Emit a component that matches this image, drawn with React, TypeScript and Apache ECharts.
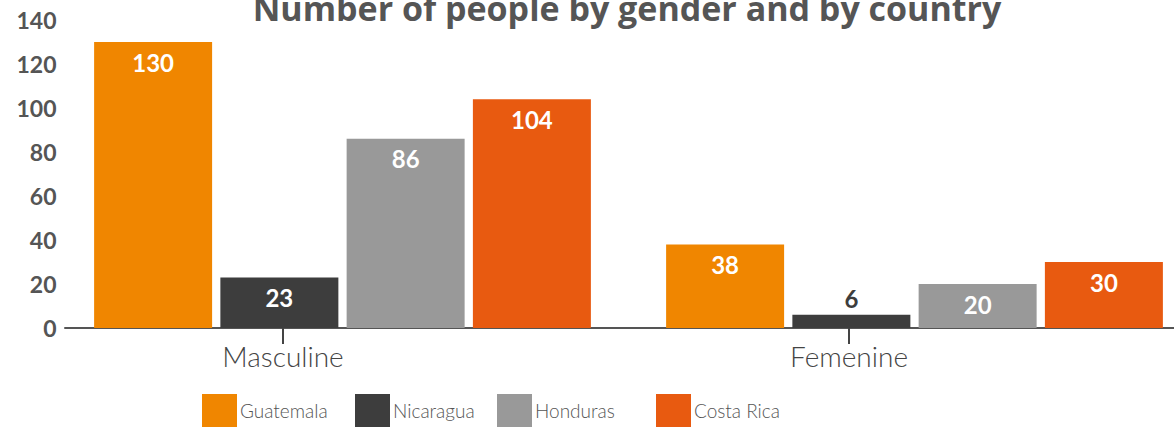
import React, { useEffect, useRef } from "react";
import * as echarts from "echarts";

const categories = ["Masculine", "Femenine"];
const countries = ["Guatemala", "Nicaragua", "Honduras", "Costa Rica"];
const guatemala = [130, 38];
const nicaragua = [23, 6];
const honduras = [86, 20];
const costaRica = [104, 30];
const yTicks = { min: 0, max: 140, interval: 20 };
const colors = ["#F08600", "#3D3D3D", "#999999", "#E85A10"];
const legendLefts = [202, 355, 497, 656];

export default function App() {
  const ref = useRef<HTMLDivElement>(null);
  useEffect(() => {
    if (!ref.current) return;
    const chart = echarts.init(ref.current, null, { renderer: "svg" });
    const font = "Lato, 'Noto Sans', sans-serif";
    const titleFont = "'Open Sans', Lato, sans-serif";
    const seriesData = [guatemala, nicaragua, honduras, costaRica];
    chart.setOption({
      animation: false,
      textStyle: { fontFamily: font },
      title: {
        text: "Number of people by gender and by country",
        left: 622,
        textAlign: "center",
        top: -14,
        textStyle: { fontSize: 34, fontWeight: "bold", color: "#555555", fontFamily: titleFont },
      },
      legend: countries.map((name, i) => ({
        data: [name],
        left: legendLefts[i],
        top: 394,
        padding: 0,
        itemWidth: 35,
        itemHeight: 33,
        itemGap: 0,
        icon: "rect",
        textStyle: { fontSize: 19, fontWeight: 300, color: "#555555", fontFamily: font, padding: [0, 0, 0, -2] },
      })),
      grid: [
        { left: 56.5, width: 1144, top: 20, bottom: 99, containLabel: false },
        { left: 0, width: 1132, top: 20, bottom: 99, containLabel: false },
        { left: 65, width: 1109, top: 20, bottom: 99, containLabel: false },
      ],
      xAxis: [
        {
          type: "category",
          data: categories,
          gridIndex: 0,
          axisTick: { show: false },
          axisLabel: { show: false },
          axisLine: { show: false },
        },
        {
          type: "category",
          data: categories,
          gridIndex: 1,
          axisLine: { show: false },
          axisTick: { show: true, alignWithLabel: true, length: 16, lineStyle: { color: "#444444", width: 2 } },
          axisLabel: { fontSize: 28, fontWeight: 300, color: "#444444", margin: 14, fontFamily: font },
        },
        {
          type: "category",
          data: categories,
          gridIndex: 2,
          axisTick: { show: false },
          axisLabel: { show: false },
          axisLine: { lineStyle: { color: "#555555", width: 2 } },
        },
      ],
      yAxis: [
        {
          type: "value",
          gridIndex: 0,
          min: yTicks.min,
          max: yTicks.max,
          interval: yTicks.interval,
          splitLine: { show: false },
          axisLine: { show: false },
          axisTick: { show: false },
          axisLabel: { fontSize: 23, fontWeight: "bold", color: "#555555", margin: 0, fontFamily: font },
        },
        { type: "value", gridIndex: 1, min: yTicks.min, max: yTicks.max, show: false },
        { type: "value", gridIndex: 2, min: yTicks.min, max: yTicks.max, show: false },
      ],
      series: countries.map((name, i) => ({
        name,
        type: "bar",
        xAxisIndex: 0,
        yAxisIndex: 0,
        z: 3,
        data: seriesData[i].map((v) => ({
          value: v,
          label:
            v < 10
              ? { position: "top", color: "#3D3D3D", distance: 4 }
              : { position: "insideTop", color: "#FFFFFF", distance: 8 },
        })),
        barWidth: 118,
        barGap: "7%",
        itemStyle: { color: colors[i] },
        label: {
          show: true,
          fontSize: 24,
          fontWeight: "bold",
          fontFamily: font,
        },
      })),
    });
    return () => chart.dispose();
  }, []);
  return (
    <div style={{ width: 1174, height: 427, position: "absolute", left: 0, top: 0, overflow: "hidden" }}>
      <div ref={ref} style={{ width: 1202, height: 427 }} />
    </div>
  );
}
